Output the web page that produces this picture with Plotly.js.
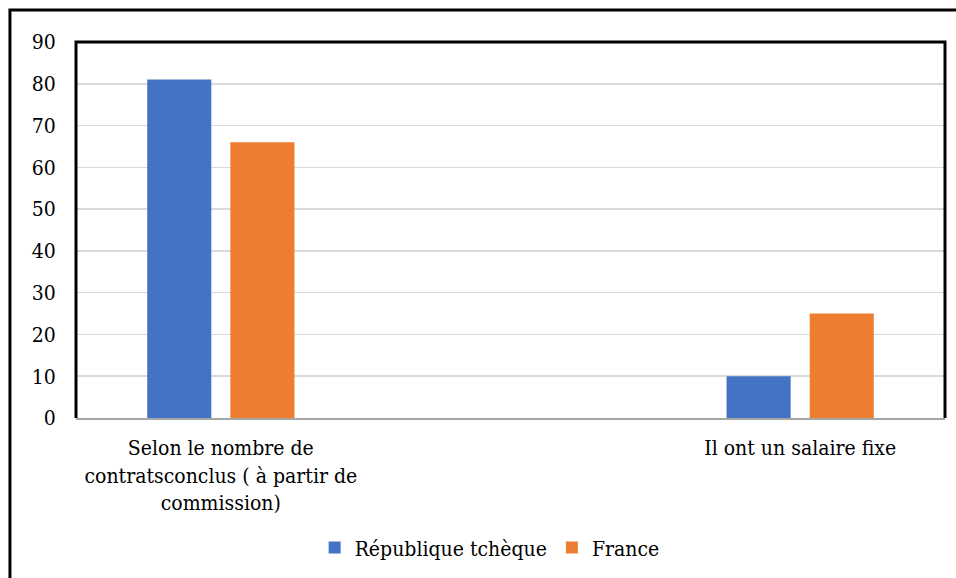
<!DOCTYPE html>
<html>
<head>
<meta charset="utf-8">
<script src="https://cdn.plot.ly/plotly-3.0.1.min.js"></script>
<style>html,body{margin:0;padding:0;background:#fff;}#chart{width:956px;height:578px;}</style>
</head>
<body>
<div id="chart"></div>
<script>
const categories = ["Selon le nombre de<br>contratsconclus ( à partir de<br>commission)", "Il ont un salaire fixe"];
const seriesNames = ["République tchèque", "France"];
const czValues = [81, 10];
const frValues = [66, 25];
const yTicks = [0, 10, 20, 30, 40, 50, 60, 70, 80, 90];

const font = "'DejaVu Serif Condensed', 'DejaVu Serif', serif";
const traces = [
  {type: "bar", name: seriesNames[0], x: [0, 1], y: czValues, marker: {color: "#4472C4"}},
  {type: "bar", name: seriesNames[1], x: [0, 1], y: frValues, marker: {color: "#ED7D31"}}
];
const layout = {
  width: 956, height: 578,
  margin: {l: 76, r: 11, t: 42, b: 159},
  paper_bgcolor: "#fff", plot_bgcolor: "#fff",
  font: {family: font, size: 21, color: "#000"},
  barmode: "group", bargap: 0.713, bargroupgap: 0.229,
  xaxis: {
    range: [-0.25, 1.25], tickmode: "array", tickvals: [0, 1], ticktext: categories,
    showgrid: false, zeroline: false, showline: true, linecolor: "#a6a6a6", linewidth: 2,
    ticks: "outside", ticklen: 10, tickcolor: "rgba(0,0,0,0)",
    tickfont: {family: font, size: 21, color: "#000"}
  },
  yaxis: {
    range: [0, 90], tickmode: "array", tickvals: yTicks,
    showgrid: true, gridcolor: "#d9d9d9", gridwidth: 1.5, zeroline: false,
    ticks: "outside", ticklen: 15, tickcolor: "rgba(0,0,0,0)",
    tickfont: {family: font, size: 21, color: "#000"}
  },
  showlegend: true,
  legend: {orientation: "h", x: 0.476, xanchor: "center", y: -0.342, yanchor: "middle",
    font: {family: font, size: 21, color: "#000"}},
  shapes: [
    {type: "path", xref: "paper", yref: "paper", path: "M 0,0 L 0,1 L 1,1 L 1,0",
     line: {color: "#000", width: 3}},
    {type: "rect", xref: "paper", yref: "paper", x0: -0.076, x1: 1.2, y0: -1, y1: 1.0849,
     line: {color: "#000", width: 3}}
  ]
};
Plotly.newPlot("chart", traces, layout, {displayModeBar: false, staticPlot: true});
</script>
</body>
</html>
